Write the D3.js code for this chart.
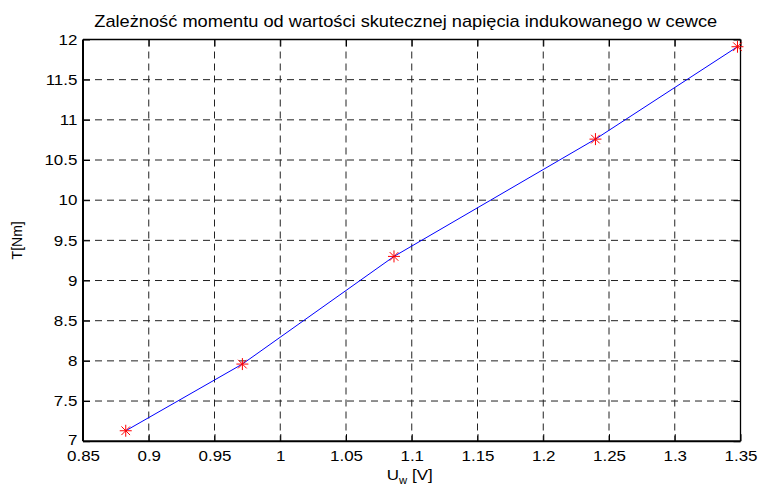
<!DOCTYPE html>
<html>
<head>
<meta charset="utf-8">
<script src="https://cdn.jsdelivr.net/npm/d3@7"></script>
<style>
  body { margin: 0; background: #fff; }
  text { font-family: "Liberation Sans", Arial, sans-serif; fill: #000; }
</style>
</head>
<body>
<div id="chart"></div>
<script>
// data
var uValues = [0.8825, 0.9712, 1.0865, 1.2397, 1.3477];
var tValues = [7.13, 7.96, 9.30, 10.76, 11.91];
var xTicks = [0.85, 0.9, 0.95, 1, 1.05, 1.1, 1.15, 1.2, 1.25, 1.3, 1.35];
var yTicks = [7, 7.5, 8, 8.5, 9, 9.5, 10, 10.5, 11, 11.5, 12];

var titleText = "Zależność momentu od wartości skutecznej napięcia indukowanego w cewce";

var W = 760, H = 486;
var margin = {top: 39.5, right: 19.5, bottom: 44.8, left: 83};
var width = W - margin.left - margin.right,
    height = H - margin.top - margin.bottom;
var sx = 1.13; // horizontal stretch of the exported figure text

var svg = d3.select("#chart").append("svg")
    .attr("width", W)
    .attr("height", H);
var g = svg.append("g")
    .attr("transform", "translate(" + margin.left + "," + margin.top + ")");

var x = d3.scaleLinear().domain([0.85, 1.35]).range([0, width]);
var y = d3.scaleLinear().domain([7, 12]).range([height, 0]);

// grid
g.append("g").selectAll("line").data(xTicks.slice(1, -1)).enter().append("line")
    .attr("x1", function(d) { return x(d); })
    .attr("x2", function(d) { return x(d); })
    .attr("y1", 0).attr("y2", height)
    .attr("stroke", "#222").attr("stroke-width", 1)
    .attr("stroke-dasharray", "7,5");
g.append("g").selectAll("line").data(yTicks.slice(1, -1)).enter().append("line")
    .attr("y1", function(d) { return y(d); })
    .attr("y2", function(d) { return y(d); })
    .attr("x1", 0).attr("x2", width)
    .attr("stroke", "#222").attr("stroke-width", 1)
    .attr("stroke-dasharray", "7,5");

// axes, ticks pointing inwards
var xAxis = d3.axisBottom(x).tickValues(xTicks).tickSize(-7).tickPadding(9)
    .tickFormat(d3.format("~g"));
var yAxis = d3.axisLeft(y).tickValues(yTicks).tickSize(-7).tickPadding(5)
    .tickFormat(d3.format("~g"));

var xg = g.append("g").attr("transform", "translate(0," + height + ")").call(xAxis);
var yg = g.append("g").call(yAxis);
var xt = g.append("g").call(d3.axisTop(x).tickValues(xTicks).tickSize(-7).tickFormat(""));
var yr = g.append("g").attr("transform", "translate(" + width + ",0)")
    .call(d3.axisRight(y).tickValues(yTicks).tickSize(-7).tickFormat(""));

[xg, yg, xt, yr].forEach(function(a) {
  a.select(".domain").remove();
  a.selectAll(".tick line").attr("stroke", "#000");
});
xg.selectAll("text").style("font-size", "15px").attr("transform", "scale(" + sx + ",1)");
yg.selectAll("text").style("font-size", "15px").attr("transform", "scale(" + sx + ",1)");
// lowest y label sits a touch higher so it clears 0.85
yg.selectAll("text").filter(function(d) { return d === 7; }).attr("dy", "0.2em");

// box
g.append("line").attr("x1", 0).attr("x2", 0).attr("y1", 0).attr("y2", height)
    .attr("stroke", "#000").attr("stroke-width", 2);
g.append("line").attr("x1", 0).attr("x2", width).attr("y1", height).attr("y2", height)
    .attr("stroke", "#000").attr("stroke-width", 2);
g.append("line").attr("x1", 0).attr("x2", width).attr("y1", 0).attr("y2", 0)
    .attr("stroke", "#000").attr("stroke-width", 1.3);
g.append("line").attr("x1", width).attr("x2", width).attr("y1", 0).attr("y2", height)
    .attr("stroke", "#000").attr("stroke-width", 1.3);

// line
var pts = uValues.map(function(u, i) { return [u, tValues[i]]; });
var line = d3.line()
    .x(function(d) { return x(d[0]); })
    .y(function(d) { return y(d[1]); });
g.append("path")
    .datum(pts)
    .attr("d", line)
    .attr("fill", "none")
    .attr("stroke", "#0000ff")
    .attr("stroke-width", 1);

// asterisk markers
function star(r) {
  var k = r * 0.72;
  return "M" + (-r) + ",0L" + r + ",0M0," + (-r) + "L0," + r +
         "M" + (-k) + "," + (-k) + "L" + k + "," + k +
         "M" + (-k) + "," + k + "L" + k + "," + (-k);
}
g.selectAll(".pt").data(pts).enter().append("path")
    .attr("class", "pt")
    .attr("d", star(6))
    .attr("transform", function(d) { return "translate(" + x(d[0]) + "," + y(d[1]) + ")"; })
    .attr("fill", "none")
    .attr("stroke", "#ff0000")
    .attr("stroke-width", 1);

// title
svg.append("text")
    .attr("transform", "translate(" + (margin.left + width / 2 - 6) + ",27) scale(1.14,1)")
    .attr("text-anchor", "middle")
    .style("font-size", "16px")
    .text(titleText);

// y label
svg.append("text")
    .attr("transform", "translate(22," + (margin.top + height / 2) + ") rotate(-90)")
    .attr("text-anchor", "middle")
    .style("font-size", "14px")
    .text("T[Nm]");

// x label
var xl = svg.append("text")
    .attr("transform", "translate(" + (margin.left + width / 2 - 2) + ",480) scale(" + sx + ",1)")
    .attr("text-anchor", "middle")
    .style("font-size", "15px");
xl.append("tspan").text("U");
xl.append("tspan").attr("dy", 4).style("font-size", "10px").text("w");
xl.append("tspan").attr("dy", -4).text(" [V]");
</script>
</body>
</html>
